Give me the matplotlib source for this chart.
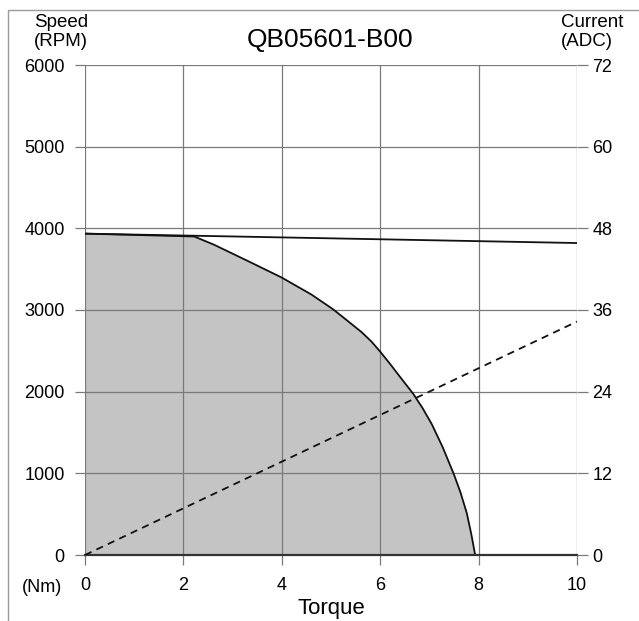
import matplotlib
matplotlib.use("Agg")
import matplotlib.pyplot as plt
from matplotlib.patches import Rectangle

plt.rcParams['font.family'] = ['Liberation Sans', 'DejaVu Sans']

# Data
title = "QB05601-B00"
torque_ticks = [0, 2, 4, 6, 8, 10]
speed_ticks = [0, 1000, 2000, 3000, 4000, 5000, 6000]
current_ticks = [0, 12, 24, 36, 48, 60, 72]

# Continuous (no-load) speed line
cont_torque = [0, 10]
cont_speed = [3935, 3820]

# Intermittent boundary curve (gray region)
peak_torque = [0, 2.22, 2.62, 3.31, 3.99, 4.6, 5.04, 5.3, 5.62, 5.82, 6.0, 6.2,
               6.43, 6.67, 6.86, 7.05, 7.27, 7.49, 7.63, 7.76, 7.85, 7.93, 10]
peak_speed = [3935, 3900, 3800, 3600, 3400, 3190, 3010, 2885, 2730, 2615, 2490,
              2340, 2160, 1975, 1800, 1600, 1320, 1000, 770, 512, 260, 0, 0]

# Current line (right axis)
cur_torque = [0, 10]
cur_amps = [0, 34.3]

W, H = 639, 621
fig = plt.figure(figsize=(W / 100, H / 100), dpi=100)
ax = fig.add_axes([85 / W, 1 - 555 / H, (577 - 85) / W, (555 - 65) / H])

grid_c = '#7a7a7a'
ax.fill_between(peak_torque, peak_speed, 0, color='#c4c4c4', linewidth=0, zorder=1)
for t in torque_ticks:
    ax.axvline(t, color=grid_c, lw=0.9, zorder=2)
for s in speed_ticks:
    ax.axhline(s, color=grid_c, lw=0.9, zorder=2)

ax.plot(peak_torque, peak_speed, color='#111111', lw=1.3, zorder=4)
ax.plot(cont_torque, cont_speed, color='#111111', lw=1.3, zorder=4)

ax.set_xlim(0, 10)
ax.set_ylim(0, 6000)
ax.set_xticks(torque_ticks)
ax.set_yticks(speed_ticks)
for sp in ax.spines.values():
    sp.set_visible(False)
ax.tick_params(axis='y', direction='out', length=7.5, width=0.9, color=grid_c,
               pad=7, labelsize=13)
ax.tick_params(axis='x', direction='out', length=7, width=0.9, color=grid_c,
               pad=9, labelsize=13)
ax.axhline(0, color='#333333', lw=1.6, zorder=5, clip_on=False)

ax2 = ax.twinx()
ax2.plot(cur_torque, cur_amps, color='#111111', lw=1.3, ls=(0, (4, 3)), zorder=4)
ax2.set_ylim(0, 72)
ax2.set_yticks(current_ticks)
for sp in ax2.spines.values():
    sp.set_visible(False)
ax2.tick_params(axis='y', direction='out', length=8, width=0.9, color=grid_c,
                pad=3, labelsize=13)

ax.set_xlabel('Torque', fontsize=16, labelpad=2.5)

fig.text(330 / W, 1 - 40 / H, title, ha='center', va='center', fontsize=19)
fig.text(61 / W, 1 - 32 / H, 'Speed\n(RPM)', ha='center', va='center',
         fontsize=13.5, linespacing=1.15)
fig.text(561 / W, 1 - 32 / H, 'Current\n(ADC)', ha='left', va='center',
         fontsize=13.5, linespacing=1.15, multialignment='left')
fig.text(42 / W, 1 - 587 / H, '(Nm)', ha='center', va='center', fontsize=13)

fig.patches.append(Rectangle((8 / W, -0.1), 1.2, 1 - 10 / H + 0.1,
                             transform=fig.transFigure, fill=False,
                             edgecolor='#9a9a9a', lw=1.0))

fig.savefig('out.png', dpi=100)
